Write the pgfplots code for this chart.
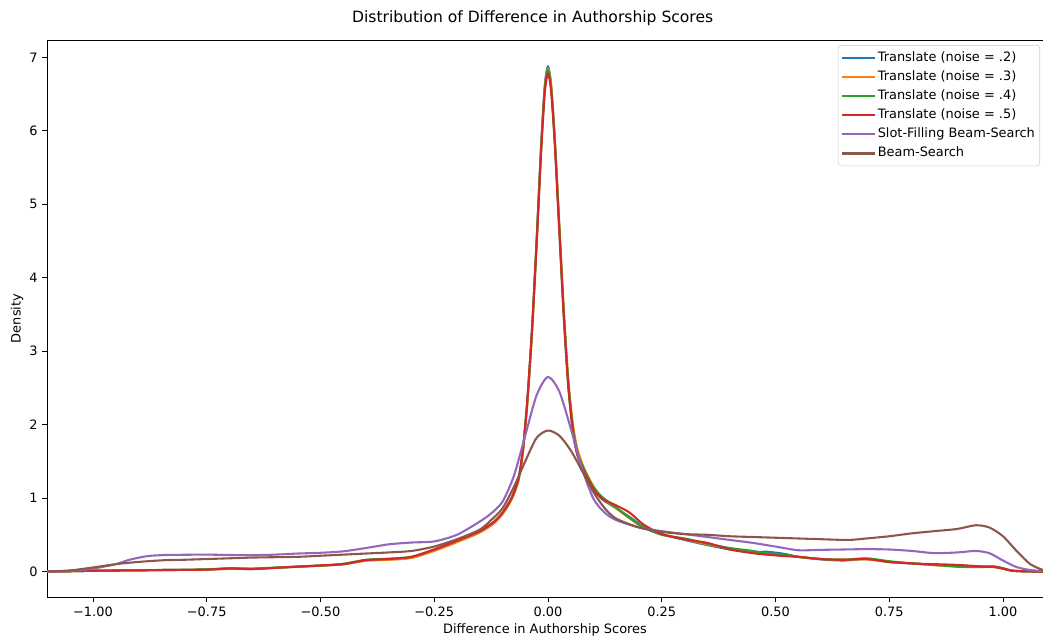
\documentclass[border=0pt]{standalone}
\usepackage{pgfplots}
\pgfplotsset{compat=1.18}
\usepackage{fontspec}
\setmainfont{DejaVu Sans}

\definecolor{tabblue}{HTML}{1F77B4}
\definecolor{taborange}{HTML}{FF7F0E}
\definecolor{tabgreen}{HTML}{2CA02C}
\definecolor{tabred}{HTML}{D62728}
\definecolor{tabpurple}{HTML}{9467BD}
\definecolor{tabbrown}{HTML}{8C564B}

\begin{document}
\begin{tikzpicture}
\useasboundingbox (0,0) rectangle (750.96pt,460.08pt);
\node[font=\fontsize{11.2}{13}\selectfont] at (383.5pt,447.2pt) {Distribution of Difference in Authorship Scores};
\begin{axis}[
    at={(33.84pt,30.24pt)}, anchor=south west,
    scale only axis,
    width=717.12pt, height=401.04pt,
    xmin=-1.101, xmax=1.088,
    ymin=-0.347, ymax=7.238,
    xtick={-1,-0.75,-0.5,-0.25,0,0.25,0.5,0.75,1},
    xticklabels={−1.00,−0.75,−0.50,−0.25,0.00,0.25,0.50,0.75,1.00},
    ytick={0,1,2,3,4,5,6,7},
    /pgf/number format/assume math mode=true,
    tick align=outside,
    major tick length=3.3pt,
    tick style={black, line width=0.6pt},
    xtick pos=bottom, ytick pos=left,
    axis line style={black, line width=0.6pt},
    tick label style={font=\fontsize{9.3}{11}\selectfont},
    xlabel={Difference in Authorship Scores},
    ylabel={Density},
    label style={font=\fontsize{9.3}{11}\selectfont},
    xlabel style={at={(axis description cs:0.5,-0.0586)}, anchor=center},
    ylabel style={at={(axis description cs:-0.0301,0.5)}, anchor=center},
    every axis plot/.append style={line width=1.5pt, line join=round, smooth, tension=0.45},
    legend style={at={(axis description cs:0.997,0.991)}, anchor=north east,
        draw=black!20, rounded corners=2pt, fill=white,
        font=\fontsize{9.3}{11}\selectfont,
        nodes={text height=6.9pt, text depth=2pt, inner ysep=2.45pt, inner xsep=1.5pt},
        row sep=0pt, inner xsep=2pt, inner ysep=2pt},
    legend cell align=left,
    legend image code/.code={\draw[#1,sharp plot] (0pt,0pt) -- (19.5pt,0pt); \path (0pt,0pt) -- (23.5pt,0pt);},
]
% Translate (noise = .2)
\addplot[color=tabblue] coordinates {
(-1.10,0.000) (-1.05,0.004) (-1.00,0.010) (-0.95,0.014) (-0.90,0.017) (-0.85,0.020)
(-0.80,0.022) (-0.75,0.026) (-0.70,0.038) (-0.65,0.034) (-0.60,0.050) (-0.55,0.065)
(-0.50,0.080) (-0.45,0.100) (-0.40,0.150) (-0.35,0.165) (-0.30,0.190) (-0.25,0.290)
(-0.20,0.410) (-0.15,0.540) (-0.12,0.660) (-0.10,0.790) (-0.08,0.990) (-0.065,1.250)
(-0.055,1.650) (-0.045,2.350) (-0.035,3.300) (-0.025,4.500) (-0.015,5.800) (-0.007,6.620)
(0.000,6.880) (0.007,6.620) (0.015,5.870) (0.025,4.660) (0.035,3.450) (0.045,2.500)
(0.055,1.900) (0.065,1.580) (0.080,1.350) (0.100,1.120) (0.120,0.980) (0.150,0.860)
(0.180,0.740) (0.210,0.610) (0.250,0.510) (0.300,0.430) (0.350,0.360) (0.400,0.300)
(0.450,0.260) (0.480,0.270) (0.520,0.240) (0.550,0.200) (0.600,0.165) (0.650,0.150)
(0.700,0.170) (0.750,0.130) (0.800,0.110) (0.850,0.090) (0.900,0.075) (0.950,0.070)
(0.980,0.070) (1.000,0.045) (1.020,0.012) (1.050,0.002) (1.088,0.000)
};
\addlegendentry{Translate (noise = .2)}
% Translate (noise = .3)
\addplot[color=taborange] coordinates {
(-1.10,0.000) (-1.05,0.004) (-1.00,0.010) (-0.95,0.013) (-0.90,0.016) (-0.85,0.020)
(-0.80,0.023) (-0.75,0.025) (-0.70,0.036) (-0.65,0.036) (-0.60,0.050) (-0.55,0.066)
(-0.50,0.080) (-0.45,0.098) (-0.40,0.148) (-0.35,0.160) (-0.30,0.185) (-0.25,0.280)
(-0.20,0.400) (-0.15,0.530) (-0.12,0.650) (-0.10,0.780) (-0.08,0.980) (-0.065,1.230)
(-0.055,1.620) (-0.045,2.300) (-0.035,3.250) (-0.025,4.450) (-0.015,5.760) (-0.007,6.590)
(0.000,6.850) (0.007,6.620) (0.015,5.900) (0.025,4.720) (0.035,3.550) (0.045,2.600)
(0.055,2.000) (0.065,1.660) (0.080,1.400) (0.100,1.160) (0.120,1.000) (0.150,0.860)
(0.180,0.720) (0.210,0.600) (0.250,0.510) (0.300,0.440) (0.350,0.370) (0.400,0.310)
(0.450,0.260) (0.480,0.240) (0.520,0.220) (0.550,0.200) (0.600,0.170) (0.650,0.160)
(0.700,0.165) (0.750,0.130) (0.800,0.110) (0.850,0.085) (0.900,0.070) (0.950,0.070)
(0.980,0.065) (1.000,0.040) (1.020,0.012) (1.050,0.002) (1.088,0.000)
};
\addlegendentry{Translate (noise = .3)}
% Translate (noise = .4)
\addplot[color=tabgreen] coordinates {
(-1.10,0.000) (-1.05,0.004) (-1.00,0.010) (-0.95,0.014) (-0.90,0.017) (-0.85,0.021)
(-0.80,0.024) (-0.75,0.030) (-0.70,0.045) (-0.65,0.040) (-0.60,0.052) (-0.55,0.068)
(-0.50,0.082) (-0.45,0.105) (-0.40,0.160) (-0.35,0.175) (-0.30,0.200) (-0.25,0.300)
(-0.20,0.420) (-0.15,0.550) (-0.12,0.670) (-0.10,0.800) (-0.08,1.000) (-0.065,1.260)
(-0.055,1.660) (-0.045,2.360) (-0.035,3.300) (-0.025,4.480) (-0.015,5.760) (-0.007,6.570)
(0.000,6.830) (0.007,6.580) (0.015,5.860) (0.025,4.680) (0.035,3.500) (0.045,2.550)
(0.055,1.950) (0.065,1.620) (0.080,1.380) (0.100,1.150) (0.120,1.010) (0.150,0.870)
(0.180,0.730) (0.210,0.600) (0.250,0.500) (0.300,0.450) (0.350,0.380) (0.400,0.320)
(0.450,0.280) (0.480,0.250) (0.520,0.230) (0.550,0.200) (0.600,0.170) (0.650,0.160)
(0.700,0.180) (0.750,0.140) (0.800,0.110) (0.850,0.090) (0.900,0.065) (0.950,0.060)
(0.980,0.065) (1.000,0.040) (1.020,0.012) (1.050,0.002) (1.088,0.000)
};
\addlegendentry{Translate (noise = .4)}
% Translate (noise = .5)
\addplot[color=tabred] coordinates {
(-1.10,0.000) (-1.05,0.004) (-1.00,0.010) (-0.95,0.014) (-0.90,0.016) (-0.85,0.020)
(-0.80,0.022) (-0.75,0.026) (-0.70,0.040) (-0.65,0.034) (-0.60,0.050) (-0.55,0.066)
(-0.50,0.082) (-0.45,0.100) (-0.40,0.155) (-0.35,0.170) (-0.30,0.200) (-0.25,0.300)
(-0.20,0.420) (-0.15,0.550) (-0.12,0.670) (-0.10,0.800) (-0.08,1.000) (-0.065,1.260)
(-0.055,1.660) (-0.045,2.360) (-0.035,3.300) (-0.025,4.460) (-0.015,5.720) (-0.007,6.520)
(0.000,6.780) (0.007,6.540) (0.015,5.820) (0.025,4.630) (0.035,3.450) (0.045,2.500)
(0.055,1.900) (0.065,1.580) (0.080,1.350) (0.100,1.120) (0.120,0.990) (0.150,0.900)
(0.180,0.800) (0.210,0.640) (0.250,0.510) (0.300,0.440) (0.350,0.390) (0.400,0.300)
(0.450,0.250) (0.480,0.230) (0.520,0.210) (0.550,0.200) (0.600,0.170) (0.650,0.160)
(0.700,0.170) (0.750,0.130) (0.800,0.110) (0.850,0.100) (0.900,0.090) (0.950,0.070)
(0.980,0.060) (1.000,0.040) (1.020,0.012) (1.050,0.002) (1.088,0.000)
};
\addlegendentry{Translate (noise = .5)}
% Slot-Filling Beam-Search
\addplot[color=tabpurple] coordinates {
(-1.10,0.000) (-1.05,0.008) (-1.00,0.040) (-0.95,0.100) (-0.92,0.160) (-0.88,0.210)
(-0.84,0.225) (-0.80,0.228) (-0.75,0.230) (-0.70,0.225) (-0.65,0.222) (-0.60,0.230)
(-0.55,0.245) (-0.50,0.255) (-0.45,0.275) (-0.40,0.320) (-0.35,0.370) (-0.30,0.395)
(-0.25,0.410) (-0.20,0.500) (-0.15,0.680) (-0.125,0.790) (-0.10,0.950) (-0.075,1.300)
(-0.05,1.850) (-0.025,2.400) (0.000,2.650) (0.025,2.450) (0.050,1.950) (0.075,1.400)
(0.100,0.990) (0.125,0.800) (0.150,0.700) (0.200,0.600) (0.250,0.550) (0.300,0.510)
(0.350,0.470) (0.400,0.430) (0.450,0.390) (0.500,0.340) (0.550,0.290) (0.600,0.295)
(0.650,0.300) (0.700,0.305) (0.750,0.300) (0.800,0.280) (0.850,0.250) (0.900,0.260)
(0.940,0.280) (0.970,0.250) (1.000,0.150) (1.030,0.060) (1.060,0.020) (1.088,0.008)
};
\addlegendentry{Slot-Filling Beam-Search}
% Beam-Search
\addplot[color=tabbrown] coordinates {
(-1.10,0.000) (-1.05,0.015) (-1.00,0.055) (-0.95,0.100) (-0.92,0.120) (-0.88,0.140)
(-0.84,0.155) (-0.80,0.160) (-0.75,0.170) (-0.70,0.180) (-0.65,0.190) (-0.60,0.195)
(-0.55,0.200) (-0.50,0.215) (-0.45,0.230) (-0.40,0.245) (-0.35,0.260) (-0.30,0.280)
(-0.25,0.340) (-0.20,0.440) (-0.15,0.570) (-0.125,0.700) (-0.10,0.860) (-0.075,1.150)
(-0.05,1.500) (-0.025,1.820) (0.000,1.920) (0.025,1.850) (0.050,1.650) (0.075,1.370)
(0.100,1.080) (0.125,0.860) (0.150,0.720) (0.200,0.600) (0.250,0.540) (0.300,0.510)
(0.350,0.500) (0.400,0.480) (0.450,0.470) (0.500,0.460) (0.550,0.450) (0.600,0.440)
(0.660,0.430) (0.700,0.450) (0.750,0.480) (0.800,0.520) (0.850,0.550) (0.900,0.580)
(0.940,0.630) (0.970,0.600) (1.000,0.480) (1.030,0.280) (1.060,0.100) (1.088,0.020)
};
\addlegendentry{Beam-Search}
\end{axis}
\end{tikzpicture}
\end{document}
